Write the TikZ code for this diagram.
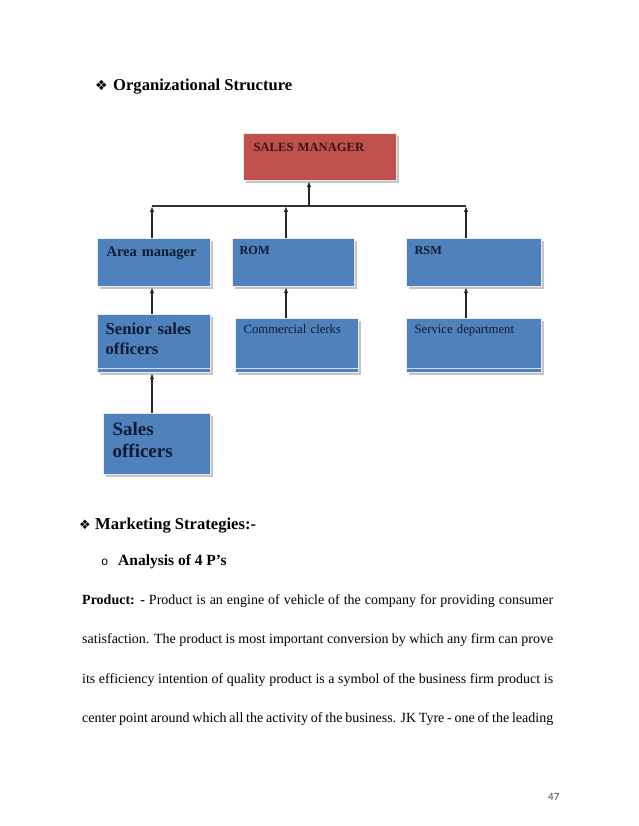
\documentclass[tikz,border=0pt]{standalone}
\usepackage{fontspec}
\setmainfont{Liberation Serif}
\newfontfamily\dingfont{DejaVu Sans}
\newfontfamily\bulletfont{Liberation Mono}
\newfontfamily\footfont{Carlito}
\usetikzlibrary{arrows.meta, shadows, positioning}

\definecolor{smred}{HTML}{C0504D}
\definecolor{orgblue}{HTML}{4F81BD}
\definecolor{redtext}{HTML}{3A1414}
\definecolor{bluetext}{HTML}{0F1B30}

\tikzset{
  orgbox/.style={anchor=north west, inner ysep=0pt, align=left, draw=white!92!black, line width=1.2pt,
    drop shadow={shadow xshift=2pt, shadow yshift=-2.5pt, fill=black!45}},
  redbox/.style={orgbox, fill=smred, text=redtext},
  bluebox/.style={orgbox, fill=orgblue, text=bluetext},
  bevel/.style={path picture={\draw[white!75!orgblue, line width=0.6pt]
    ([yshift=4pt]path picture bounding box.south west) -- ([yshift=4pt]path picture bounding box.south east);}},
  uparrow/.style={-{Latex[length=6pt, width=4.5pt]}, line width=1.1pt, draw=black!85},
  heading/.style={anchor=base west, inner sep=0pt, font=\bfseries\fontsize{16.6}{20}\selectfont}
}
\newcommand{\fullline}[1]{\makebox[471pt][s]{#1}}

\begin{document}
\begin{tikzpicture}[x=1pt, y=-1pt]
\useasboundingbox (0,0) rectangle (638,826);

% headings
\node[heading] (orgtitle) at (95,91) {\makebox[18pt][l]{\dingfont\mdseries\fontsize{14}{16}\selectfont ❖}Organizational Structure};

% chart boxes
\node[redbox, text width=133pt, inner xsep=10pt, text height=18pt, text depth=29pt,
  font=\bfseries\fontsize{12.6}{15}\selectfont] (sm) at (243,133) {SALES MANAGER};

\node[bluebox, text width=95pt, inner xsep=9pt, text height=18pt, text depth=30pt,
  font=\bfseries\fontsize{14.5}{17}\selectfont] (area) at (97,238) {Area manager};
\node[bluebox, text width=108pt, inner xsep=7pt, text height=16pt, text depth=32pt,
  font=\bfseries\fontsize{12.3}{15}\selectfont] (rom) at (232,238) {ROM};
\node[bluebox, text width=119pt, inner xsep=8pt, text height=16pt, text depth=32pt,
  font=\bfseries\fontsize{12.3}{15}\selectfont] (rsm) at (406,238) {RSM};

\node[bluebox, bevel, text width=97pt, inner xsep=8pt, text height=20pt, text depth=38pt,
  font=\bfseries\fontsize{16.7}{19.5}\selectfont] (senior) at (97,314) {Senior sales\\officers};
\node[bluebox, bevel, text width=107pt, inner xsep=8pt, text height=15pt, text depth=39pt,
  font=\fontsize{12.7}{15}\selectfont] (clerks) at (235,318) {Commercial clerks};
\node[bluebox, bevel, text width=119pt, inner xsep=8pt, text height=15pt, text depth=39pt,
  font=\fontsize{12.7}{15}\selectfont] (service) at (406,318) {Service department};

\node[bluebox, text width=89pt, inner xsep=9pt, text height=22pt, text depth=39pt,
  font=\bfseries\fontsize{19}{22}\selectfont] (sales) at (103,413) {Sales\\officers};

% connectors
\coordinate (busL) at (152,206);
\coordinate (busM) at (286,206);
\coordinate (busR) at (466,206);
\coordinate (busT) at (309,206);

\draw[line width=1.1pt, draw=black!80] (busL) -- (busR);
\draw[uparrow] (busT) -- (busT |- sm.south);
\draw[uparrow] (busL |- area.north) -- (busL);
\draw[uparrow] (busM |- rom.north) -- (busM);
\draw[uparrow] (busR |- rsm.north) -- (busR);
\draw[uparrow] (busL |- senior.north) -- (busL |- area.south);
\draw[uparrow] (busM |- clerks.north) -- (busM |- rom.south);
\draw[uparrow] (busR |- service.north) -- (busR |- rsm.south);
\draw[uparrow] (busL |- sales.north) -- (busL |- senior.south);

% text below the chart
\node[heading] (mkt) at (79,529) {\makebox[16pt][l]{\dingfont\mdseries\fontsize{13}{15}\selectfont ❖}Marketing Strategies:-};
\node[anchor=base west, inner sep=0pt, font=\bfseries\fontsize{15.5}{18}\selectfont] (fourp) at (101,565)
  {\makebox[17pt][l]{\bulletfont\mdseries\fontsize{12}{14}\selectfont o}Analysis of 4 P’s};

\node[anchor=base west, inner sep=0pt, font=\fontsize{14}{39.5}\selectfont] (product) at (82,604)
  {\parbox[t]{471pt}{%
   \fullline{\textbf{Product: -} Product is an engine of vehicle of the company for providing consumer}\\
   \fullline{satisfaction. The product is most important conversion by which any firm can prove}\\
   \fullline{its efficiency intention of quality product is a symbol of the business firm product is}\\
   \fullline{center point around which all the activity of the business. JK Tyre - one of the leading}}};

\node[anchor=base west, inner sep=0pt, text=black!70, font=\footfont\fontsize{11}{13}\selectfont] (pgnum) at (548,800) {47};
\end{tikzpicture}
\end{document}
